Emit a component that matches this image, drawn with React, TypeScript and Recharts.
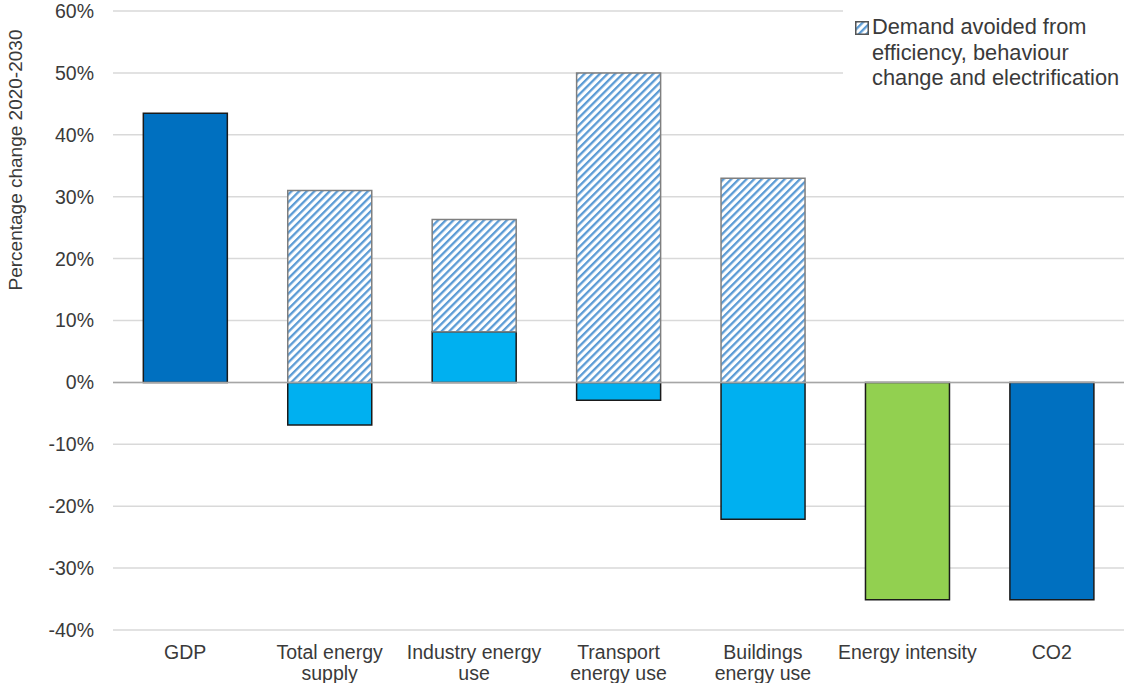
import React from 'react'
import {
  BarChart,
  Bar,
  Cell,
  XAxis,
  YAxis,
  CartesianGrid,
  ReferenceLine,
  Legend,
} from 'recharts'

// categories (line breaks mark the wrapped tick labels)
const categories = [
  'GDP',
  'Total energy\nsupply',
  'Industry energy\nuse',
  'Transport\nenergy use',
  'Buildings\nenergy use',
  'Energy intensity',
  'CO2',
]

// % change 2020-2030
const actualChange = [43.5, -6.9, 8.2, -2.9, -22.1, -35.1, -35.1]
// demand avoided, stacked on top of the positive part
const avoidedDemand = [null, 31.0, 18.1, 50.0, 33.0, null, null]

const barColors = ['#0070C0', '#00B0F0', '#00B0F0', '#00B0F0', '#00B0F0', '#92D050', '#0070C0']

const yTicks = [-40, -30, -20, -10, 0, 10, 20, 30, 40, 50, 60]

const legendLabel = 'Demand avoided from efficiency, behaviour change and electrification'

const FONT = '"Liberation Sans", Arial, sans-serif'
const TEXT = '#3a3a3a'

const data = categories.map((name, i) => ({
  name,
  actual: actualChange[i],
  avoided: avoidedDemand[i],
}))

function CategoryTick(props: any) {
  const { x, y, payload } = props
  const lines = String(payload.value).split('\n')
  return (
    <text x={x} y={y} textAnchor="middle" fontSize={19.5} fill={TEXT} fontFamily={FONT}>
      {lines.map((l, i) => (
        <tspan key={i} x={x} dy={i === 0 ? 27 : 21}>
          {l}
        </tspan>
      ))}
    </text>
  )
}

function HatchLegend() {
  return (
    <div
      style={{
        background: '#fff',
        width: 281,
        height: 96,
        boxSizing: 'border-box',
        padding: '14px 0 0 12px',
        display: 'flex',
        alignItems: 'flex-start',
        fontFamily: FONT,
        fontSize: 21.8,
        lineHeight: '25.5px',
        color: TEXT,
      }}
    >
      <svg width={14} height={14} style={{ marginTop: 7, marginRight: 3, flex: 'none' }}>
        <rect x={0.75} y={0.75} width={12.5} height={12.5} fill="url(#hatch)" stroke="#555" strokeWidth={1.5} />
      </svg>
      <div style={{ width: 255, whiteSpace: 'nowrap' }}>
        Demand avoided from
        <br />
        efficiency, behaviour
        <br />
        change and electrification
      </div>
    </div>
  )
}

export default function App() {
  return (
    <div style={{ position: 'absolute', left: 0, top: 0, width: 1124, height: 683, background: '#fff' }}>
      <svg width={0} height={0} style={{ position: 'absolute' }}>
        <defs>
          <pattern id="hatch" patternUnits="userSpaceOnUse" width={5.4} height={5.4} patternTransform="rotate(45)">
            <rect width={5.4} height={5.4} fill="#fff" />
            <rect x={0} y={0} width={2.3} height={5.4} fill="#5B9BD5" />
          </pattern>
        </defs>
      </svg>
      <BarChart
        width={1124}
        height={683}
        data={data}
        stackOffset="sign"
        barCategoryGap="21%"
        margin={{ top: 11, right: 0, bottom: 0, left: 0 }}
      >
        <CartesianGrid vertical={false} stroke="#d9d9d9" strokeWidth={1.5} />
        <XAxis
          dataKey="name"
          axisLine={false}
          tickLine={false}
          tickSize={0}
          height={53}
          interval={0}
          tick={<CategoryTick />}
        />
        <YAxis
          domain={[-40, 60]}
          ticks={yTicks}
          width={113}
          axisLine={false}
          tickLine={false}
          tickSize={0}
          tickMargin={19}
          tickFormatter={(v: number) => `${v}%`}
          tick={{ fontSize: 19.5, fill: TEXT, fontFamily: FONT }}
          label={{
            content: () => (
              <text
                x={15}
                y={160}
                transform="rotate(-90 15 160)"
                textAnchor="middle"
                dominantBaseline="central"
                fontSize={19}
                fill={TEXT}
                fontFamily={FONT}
              >
                Percentage change 2020-2030
              </text>
            ),
          }}
        />
        <ReferenceLine y={0} stroke="#a6a6a6" strokeWidth={1.5} />
        <Bar dataKey="actual" stackId="a" stroke="#1a1a1a" strokeWidth={1.5} isAnimationActive={false}>
          {data.map((d, i) => (
            <Cell key={d.name} fill={barColors[i]} />
          ))}
        </Bar>
        <Bar
          dataKey="avoided"
          stackId="a"
          fill="url(#hatch)"
          stroke="#7f7f7f"
          strokeWidth={1.5}
          isAnimationActive={false}
        />
        <Legend
          layout="horizontal"
          verticalAlign="middle"
          align="center"
          content={() => <HatchLegend />}
          wrapperStyle={{ position: 'absolute', top: 0, right: 0, left: 'auto', bottom: 'auto', width: 281 }}
        />
      </BarChart>
    </div>
  )
}
